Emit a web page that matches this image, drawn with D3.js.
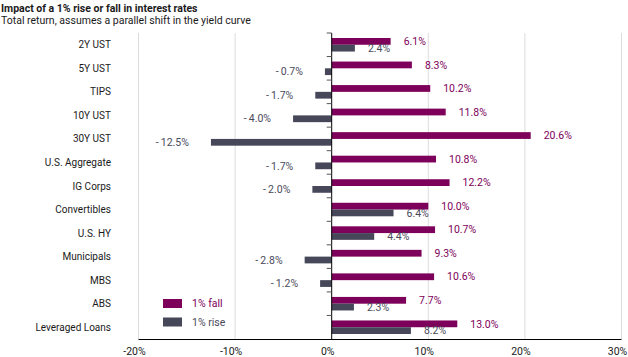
<!DOCTYPE html>
<html><head><meta charset="utf-8">
<script src="https://cdn.jsdelivr.net/npm/d3@7"></script>
<style>
body{margin:0;background:#fff;}
text{font-family:"Roboto","Liberation Sans",sans-serif;}
</style></head>
<body><svg id="c" width="628" height="357"></svg>
<script>
const categories = ["2Y UST","5Y UST","TIPS","10Y UST","30Y UST","U.S. Aggregate","IG Corps","Convertibles","U.S. HY","Municipals","MBS","ABS","Leveraged Loans"];
const fallValues = [6.1, 8.3, 10.2, 11.8, 20.6, 10.8, 12.2, 10.0, 10.7, 9.3, 10.6, 7.7, 13.0];
const riseValues = [2.4, -0.7, -1.7, -4.0, -12.5, -1.7, -2.0, 6.4, 4.4, -2.8, -1.2, 2.3, 8.2];
const seriesNames = ["1% fall","1% rise"];
const xTicks = [-20,-10,0,10,20,30];

const colFall = "#7d005a", colRise = "#464759";
const svg = d3.select("#c");
const x = d3.scaleLinear().domain([-20,30]).range([138.5,621.5]);
const y = d3.scaleBand().domain(categories).range([33,339]);
const sub = d3.scaleBand().domain(seriesNames).range([0,y.bandwidth()]).paddingInner(0).paddingOuter(0.74);

svg.append("text").attr("x",1).attr("y",11.5).attr("font-size",10.5).attr("font-weight","bold").attr("fill","#1a1a1a").text("Impact of a 1% rise or fall in interest rates");
svg.append("text").attr("x",1).attr("y",24).attr("font-size",10.5).attr("fill","#1a1a1a").text("Total return, assumes a parallel shift in the yield curve");

// gridlines
svg.append("g").selectAll("line").data(xTicks.filter(d=>d!==0)).join("line")
  .attr("x1",d=>x(d)).attr("x2",d=>x(d)).attr("y1",33).attr("y2",339)
  .attr("stroke","#dcdcdc").attr("stroke-width",1);

// bars
const data = categories.map((c,i)=>({c, fall:fallValues[i], rise:riseValues[i]}));
const g = svg.append("g");
const fmt = v => v < 0 ? "-\u2009" + d3.format(".1f")(-v) + "%" : d3.format(".1f")(v) + "%";
[["fall",colFall,seriesNames[0]],["rise",colRise,seriesNames[1]]].forEach(([k,col,nm])=>{
  g.selectAll("rect."+k).data(data).join("rect").attr("class",k)
    .attr("x",d=>x(Math.min(0,d[k]))).attr("width",d=>Math.abs(x(d[k])-x(0)))
    .attr("y",d=>y(d.c)+sub(nm)).attr("height",sub.bandwidth()).attr("fill",col);
  g.selectAll("text."+k).data(data).join("text").attr("class",k)
    .attr("x",d=>d[k]>=0 ? x(d[k])+13 : x(d[k])-22)
    .attr("text-anchor",d=>d[k]>=0?"start":"end")
    .attr("y",d=>y(d.c)+sub(nm)+sub.bandwidth()/2).attr("dy","0.35em")
    .attr("font-size",10.5).attr("fill",k==="fall"?colFall:"#4a4a5a")
    .text(d=>fmt(d[k]));
});

// zero axis
const ya = svg.append("g").attr("transform",`translate(${x(0)},0)`);
ya.append("line").attr("y1",33).attr("y2",339).attr("stroke","#000");
ya.selectAll("line.t").data(categories).join("line").attr("class","t")
  .attr("x1",-5).attr("x2",0).attr("y1",d=>y(d)).attr("y2",d=>y(d)).attr("stroke","#555");

// category labels
svg.append("g").selectAll("text").data(categories).join("text")
  .attr("x",111).attr("y",d=>y(d)+y.bandwidth()/2).attr("dy","0.35em")
  .attr("text-anchor","end").attr("font-size",10).attr("fill","#1a1a1a").text(d=>d);

// bottom axis
svg.append("line").attr("x1",x(-20)).attr("x2",x(30)).attr("y1",339.5).attr("y2",339.5).attr("stroke","#000");
svg.append("g").selectAll("text").data(xTicks).join("text")
  .attr("x",d=>x(d)-4).attr("y",354.5).attr("text-anchor","middle").attr("font-size",10.5).attr("fill","#1a1a1a")
  .text(d=>d+"%");

// legend
const lg = svg.append("g");
[[seriesNames[0],colFall,colFall,303.5],[seriesNames[1],colRise,"#4a4a5a",322]].forEach(([t,c,tc,cy])=>{
  lg.append("rect").attr("x",163).attr("y",cy-4.5).attr("width",19).attr("height",9).attr("fill",c);
  lg.append("text").attr("x",192).attr("y",cy).attr("dy","0.35em").attr("font-size",10.5).attr("fill",tc).text(t);
});
</script></body></html>
